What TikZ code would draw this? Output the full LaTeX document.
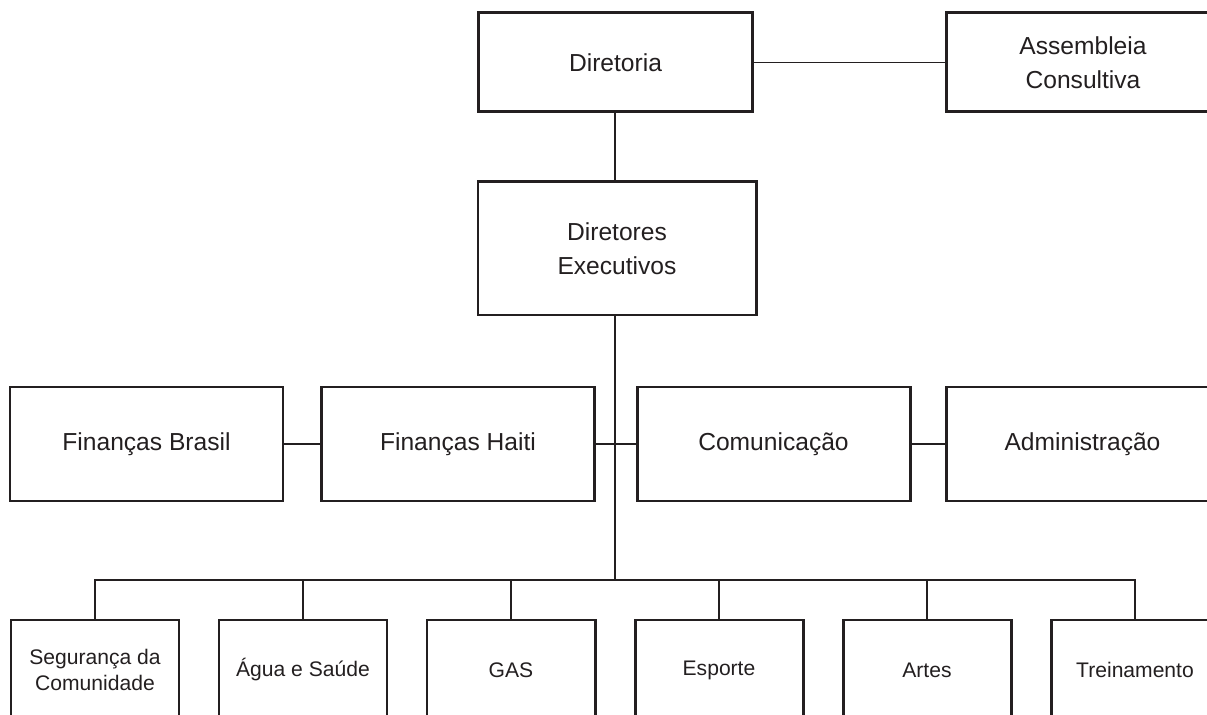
\documentclass[tikz,border=0pt]{standalone}
\usepackage{fontspec}
\setmainfont{Liberation Sans}
\usepackage{tikz}
\usetikzlibrary{positioning}
\definecolor{ink}{RGB}{35,31,32}

\begin{document}
\begin{tikzpicture}[x=0.02cm, y=-0.02cm,
		unit/.style={draw=ink, line width=1.7pt, align=center, inner sep=0pt, text=ink, font=\fontsize{14}{19.5}\selectfont},
		topbox/.style={unit, minimum width=274*0.02cm, minimum height=99*0.02cm},
		midbox/.style={unit, minimum width=273*0.02cm, minimum height=114*0.02cm},
		lowbox/.style={unit, minimum width=168*0.02cm, minimum height=100*0.02cm, font=\fontsize{12}{14.6}\selectfont},
		link/.style={draw=ink, line width=0.65pt}]
		\useasboundingbox (0,0) rectangle (1207,715);
		\clip (0,0) rectangle (1207,715);
		\node[topbox] (dir) at (615.5,62.5) {Diretoria};
		\node[topbox] (assemb) at (1083,62.5) {Assembleia\\Consultiva};
		\node[topbox, minimum width=278*0.02cm, minimum height=133*0.02cm] (dirEx) at (617,248.5) {Diretores\\Executivos};
		\node[midbox] (finBR) at (146.5,444) {Finanças Brasil};
		\node[midbox] (finHT) at (458,444) {Finanças Haiti};
		\node[midbox] (comun) at (773.5,444) {Comunicação};
		\node[midbox] (admin) at (1082.5,444) {Administração};
		\node[lowbox] (seg) at (95,670) {Segurança da\\Comunidade};
		\node[lowbox] (agua) at (303,670) {Água e Saúde};
		\node[lowbox] (gas) at (511,670) {GAS};
		\node[lowbox] (esp) at (719,670) {Esporte};
		\node[lowbox] (artes) at (927,670) {Artes};
		\node[lowbox] (trein) at (1135,670) {Treinamento};
		\coordinate (bus) at (615,580);
		\path[link]
		(dir) edge (assemb)
		(dir.south -| bus) edge (dirEx.north -| bus)
		(dirEx.south -| bus) edge (bus)
		(finBR) edge (finHT)
		(finHT) edge (comun)
		(comun) edge (admin)
		;
		\foreach \b in {seg,agua,gas,esp,artes,trein}
		\draw[link] (bus) -| (\b.north);
	\end{tikzpicture}
\end{document}
